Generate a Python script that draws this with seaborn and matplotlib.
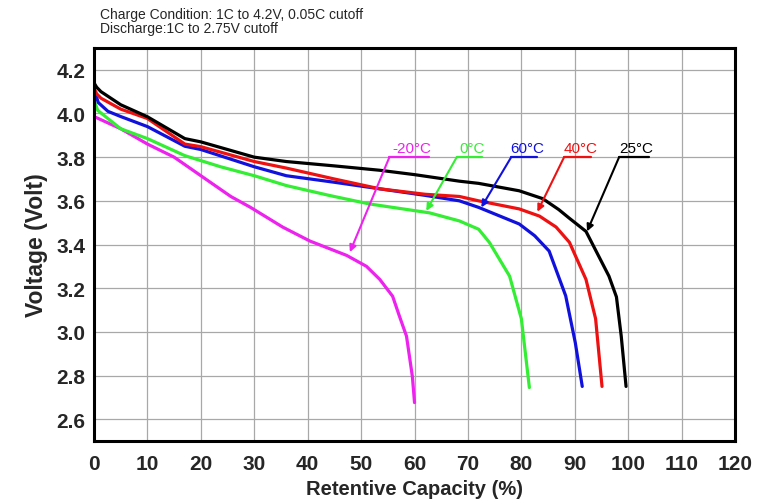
import numpy as np
import pandas as pd
import matplotlib
matplotlib.use("Agg")
import matplotlib.pyplot as plt
from matplotlib.ticker import MultipleLocator, FormatStrFormatter
import seaborn as sns

# ---- data ----
x_25 = [0, 0.5, 1.3, 5, 10, 17, 20, 30, 36, 45, 53.5, 60, 68.4, 72, 79.6, 84, 87, 89, 92.1, 96.4, 97.8, 98.7, 99.6]
y_25 = [4.14, 4.12, 4.10, 4.04, 3.985, 3.885, 3.87, 3.80, 3.78, 3.76, 3.74, 3.72, 3.69, 3.68, 3.646, 3.61, 3.56, 3.52, 3.46, 3.255, 3.16, 2.98, 2.75]

x_40 = [0, 0.5, 1.3, 5, 10, 17, 20, 30, 36, 45, 53.5, 62, 68.4, 72, 79.6, 83.4, 86.5, 89, 92.1, 93.9, 95.1]
y_40 = [4.115, 4.09, 4.07, 4.02, 3.977, 3.86, 3.848, 3.78, 3.75, 3.70, 3.655, 3.63, 3.62, 3.60, 3.563, 3.53, 3.48, 3.41, 3.24, 3.06, 2.75]

x_60 = [0, 0.8, 2.6, 5, 10, 17, 20, 30, 36, 45, 53.5, 62, 68.4, 72, 79.6, 82.5, 85.2, 88.3, 90.1, 91.4]
y_60 = [4.11, 4.05, 4.01, 3.986, 3.94, 3.85, 3.835, 3.756, 3.715, 3.685, 3.655, 3.625, 3.60, 3.57, 3.494, 3.44, 3.37, 3.165, 2.95, 2.75]

x_0 = [0, 0.7, 5, 10, 17, 23.7, 30, 36, 44, 51.5, 62.8, 68.4, 72, 74, 77.8, 80, 81.5]
y_0 = [4.06, 4.014, 3.93, 3.885, 3.807, 3.756, 3.715, 3.67, 3.625, 3.586, 3.545, 3.508, 3.47, 3.41, 3.255, 3.06, 2.745]

x_m20 = [0, 5, 10, 15, 20, 25.6, 29.3, 35.3, 40.4, 47.3, 51, 53.5, 55.9, 57.2, 58.5, 59.6, 60]
y_m20 = [3.986, 3.93, 3.86, 3.80, 3.715, 3.62, 3.57, 3.48, 3.416, 3.35, 3.30, 3.24, 3.163, 3.07, 2.98, 2.795, 2.676]

series_names = ["-20°C", "0°C", "60°C", "40°C", "25°C"]
series_x = [x_m20, x_0, x_60, x_40, x_25]
series_y = [y_m20, y_0, y_60, y_40, y_25]
colors = {"-20°C": "#ee22ee", "0°C": "#33ee33", "60°C": "#1111dd",
          "40°C": "#ee1111", "25°C": "#000000"}

# annotation: (label, arrow tip x, tip y, leader start x, leader end x)
annotations = [
    ("-20°C", 47.9, 3.365, 55.3, 62.8),
    ("0°C", 62.2, 3.554, 67.9, 72.7),
    ("60°C", 72.5, 3.57, 78.1, 83.0),
    ("40°C", 83.0, 3.55, 88.0, 93.1),
    ("25°C", 92.3, 3.46, 98.3, 103.9),
]
leader_y = 3.80

frames = []
for name, xs, ys in zip(series_names, series_x, series_y):
    frames.append(pd.DataFrame({"cap": xs, "volt": ys, "temp": name}))
df = pd.concat(frames, ignore_index=True)

sns.set_style("white")
plt.rcParams["font.family"] = ["Liberation Sans", "DejaVu Sans"]

fig = plt.figure(figsize=(7.67, 5.02), dpi=100)
ax = fig.add_axes([0.1226, 0.1195, 0.8357, 0.7829])

sns.lineplot(data=df, x="cap", y="volt", hue="temp", palette=colors,
             estimator=None, sort=False, linewidth=2.3, legend=False, ax=ax)

ax.set_xlim(0, 120)
ax.set_ylim(2.5, 4.3)
ax.xaxis.set_major_locator(MultipleLocator(10))
ax.xaxis.set_minor_locator(MultipleLocator(5))
ax.yaxis.set_major_locator(MultipleLocator(0.2))
ax.yaxis.set_minor_locator(MultipleLocator(0.1))
ax.yaxis.set_major_formatter(FormatStrFormatter("%.1f"))
ax.set_yticks([2.6, 2.8, 3.0, 3.2, 3.4, 3.6, 3.8, 4.0, 4.2])

ax.grid(True, which="major", color="#a8a8a8", linewidth=0.9)
ax.set_axisbelow(True)
for s in ax.spines.values():
    s.set_color("black")
    s.set_linewidth(2.2)
    s.set_visible(True)

ax.tick_params(axis="both", which="major", direction="in", length=10, width=2,
               labelsize=15, color="black", top=False, right=False)
ax.tick_params(axis="both", which="minor", direction="in", length=5, width=2,
               color="black", top=False, right=False)
ax.tick_params(axis="y", which="major", pad=6)
ax.tick_params(axis="x", which="major", pad=9)
for lbl in ax.get_xticklabels() + ax.get_yticklabels():
    lbl.set_fontweight("bold")

ax.set_xlabel("Retentive Capacity (%)", fontsize=14.5, fontweight="bold", labelpad=5)
ax.set_ylabel("Voltage (Volt)", fontsize=16.5, fontweight="bold", labelpad=6)

for label, tx, ty, x0, x1 in annotations:
    c = colors[label]
    ax.plot([x0, x1], [leader_y, leader_y], color=c, linewidth=1.6)
    ax.annotate("", xy=(tx, ty), xytext=(x0, leader_y),
                arrowprops=dict(arrowstyle="-|>", color=c, lw=1.5,
                                mutation_scale=10, shrinkA=0, shrinkB=0))
    ax.text((x0 + x1) / 2 + 0.5, leader_y + 0.012, label, color=c,
            fontsize=11, ha="center", va="bottom")

fig.text(100 / 767, 1 - 15 / 502, "Charge Condition: 1C to 4.2V, 0.05C cutoff",
         fontsize=10, ha="left", va="center")
fig.text(100 / 767, 1 - 29 / 502, "Discharge:1C to 2.75V cutoff",
         fontsize=10, ha="left", va="center")

fig.savefig("out.png", dpi=100)
